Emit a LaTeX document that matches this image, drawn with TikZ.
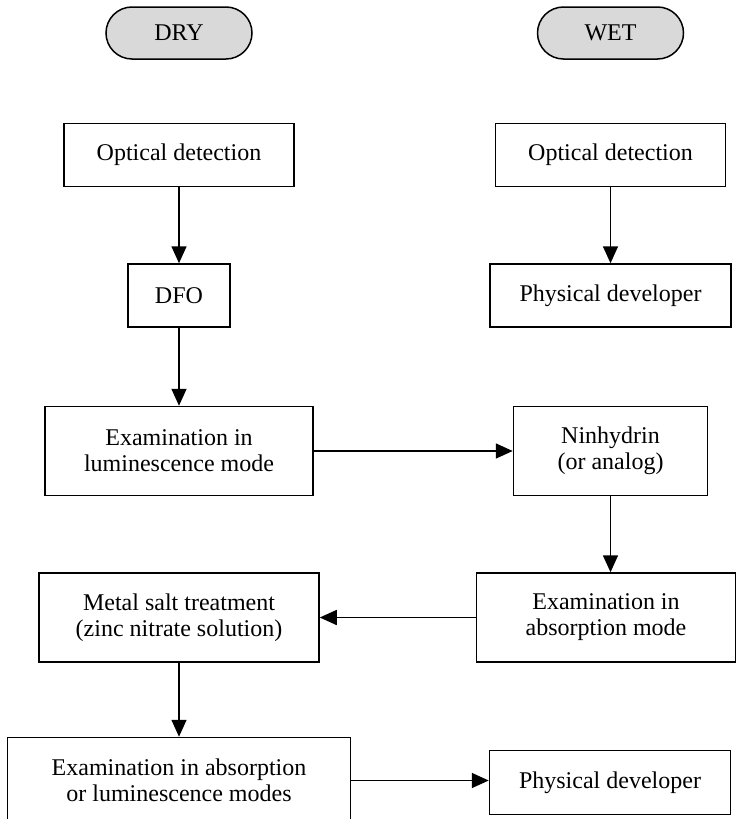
\documentclass[tikz,border=0pt]{standalone}
\usepackage{fontspec}
\setmainfont{Liberation Serif}
\usepackage{xcolor}
\definecolor{pillgray}{RGB}{217,217,217}
\usetikzlibrary{positioning, shapes.misc, arrows.meta}

\begin{document}
\begin{tikzpicture}[
    x=0.5pt, y=-0.5pt,
    font=\fontsize{12}{13}\selectfont,
    box/.style={rectangle, draw=black, line width=0.75pt, align=center,
                inner sep=2pt, minimum height=31.5pt},
    bigbox/.style={box, minimum height=44.5pt},
    pill/.style={rounded rectangle, draw=black, fill=pillgray, line width=0.75pt,
                 minimum width=77pt, minimum height=26pt, inner sep=2pt},
    arr/.style={-{Triangle[length=8.5pt, width=7.5pt]}, line width=0.8pt},
  ]
    \useasboundingbox (0,0) rectangle (737,819);

    % --- column heads ---
    \node[pill] (dry) at (179,33)   {DRY};
    \node[pill] (wet) at (610.5,33) {WET};

    % --- DRY column ---
    \node[box, minimum width=115pt, below=31.5pt of dry]   (optL)  {Optical detection};
    \node[box, minimum width=51pt, below=38pt of optL]     (dfo)   {DFO};
    \node[bigbox, minimum width=134pt, below=39pt of dfo]  (lum)   {Examination in\\ luminescence mode};
    \node[bigbox, minimum width=140pt, below=38pt of lum]  (metal) {Metal salt treatment\\ (zinc nitrate solution)};
    \node[bigbox, minimum width=171.5pt, minimum height=43pt, below=37pt of metal]
                                                           (both)  {Examination in absorption\\ or luminescence modes};

    % --- WET column ---
    \node[box, minimum width=115pt, below=31.5pt of wet]    (optR)  {Optical detection};
    \node[box, minimum width=120.5pt, below=38pt of optR]   (physR) {Physical developer};
    \node[bigbox, minimum width=97pt, below=39pt of physR]  (ninhy) {Ninhydrin\\ (or analog)};
    \node[bigbox, minimum width=129.5pt, below=38pt of ninhy, xshift=-2.25pt]
                                                            (absm)  {Examination in\\ absorption mode};
    \node[box, minimum width=120.5pt, minimum height=32pt, below=43.5pt of absm, xshift=2pt]
                                                            (physB) {Physical developer};

    % --- arrows DRY ---
    \draw[arr] (optL)  -- (dfo);
    \draw[arr] (dfo)   -- (lum);
    \draw[arr] (metal) -- (both);

    % --- arrows WET ---
    \draw[arr] (optR) -- (physR);
    \draw[arr] (ninhy.south) -- (ninhy.south |- absm.north);

    % --- crossing arrows ---
    \draw[arr] (lum)  -- (ninhy);
    \draw[arr] (absm) -- (metal);
    \draw[arr] (both.east) -- (both.east -| physB.west);
  \end{tikzpicture}
\end{document}
